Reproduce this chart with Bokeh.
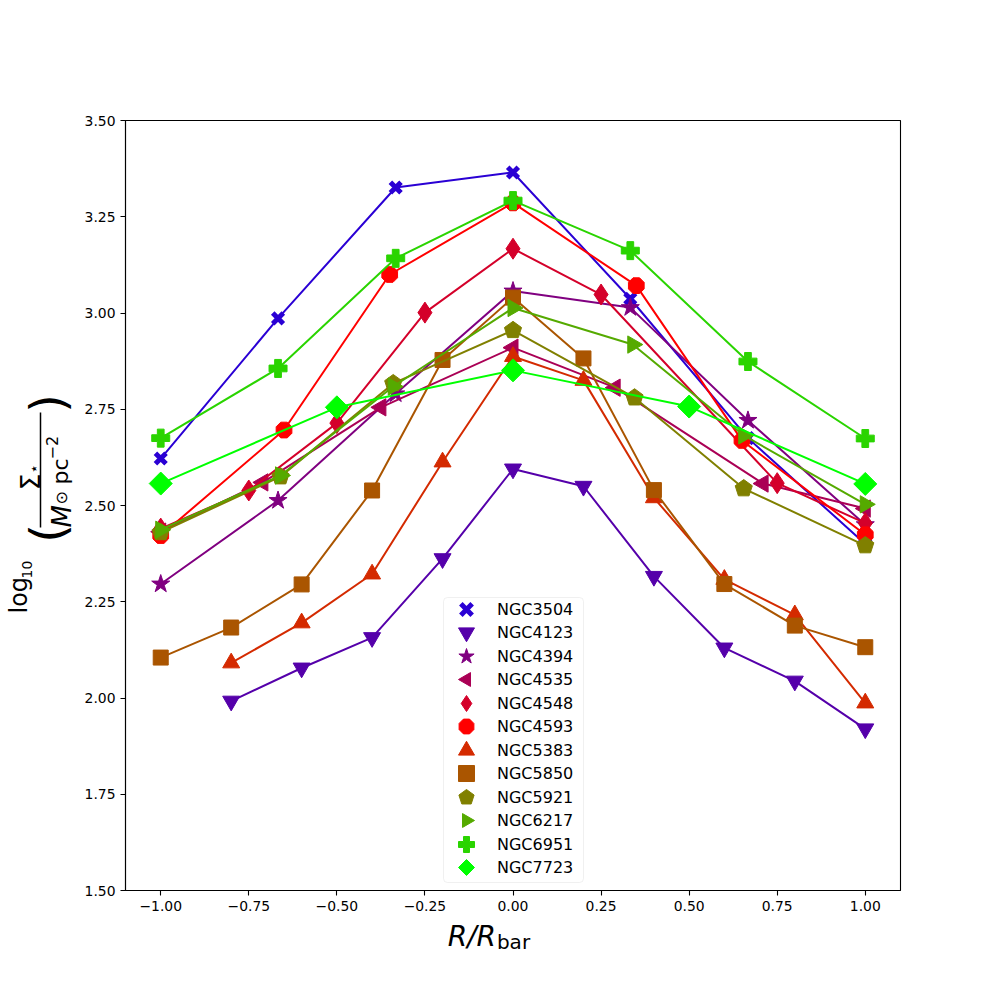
import math
from bokeh.plotting import figure
from bokeh.layouts import row, column
from bokeh.models import (Legend, LegendItem, FixedTicker, Range1d, CustomJSTickFormatter,
                          BoxAnnotation)
from bokeh.embed import file_html
from bokeh.resources import INLINE
from bokeh.core.properties import value

# ---------------- data ----------------
galaxies = ["NGC3504", "NGC4123", "NGC4394", "NGC4535", "NGC4548", "NGC4593",
            "NGC5383", "NGC5850", "NGC5921", "NGC6217", "NGC6951", "NGC7723"]

x_3504 = [-1.0, -0.667, -0.333, 0.0, 0.333, 0.667, 1.0]
y_3504 = [2.622, 2.986, 3.326, 3.365, 3.037, 2.675, 2.400]

x_4123 = [-0.8, -0.6, -0.4, -0.2, 0.0, 0.2, 0.4, 0.6, 0.8, 1.0]
y_4123 = [1.992, 2.078, 2.157, 2.362, 2.595, 2.550, 2.316, 2.130, 2.044, 1.920]

x_4394 = [-1.0, -0.667, -0.333, 0.0, 0.333, 0.667, 1.0]
y_4394 = [2.296, 2.513, 2.790, 3.057, 3.014, 2.721, 2.450]

x_4535 = [-1.0, -0.71, -0.375, 0.0, 0.29, 0.71, 1.0]
y_4535 = [2.432, 2.560, 2.755, 2.910, 2.806, 2.557, 2.492]

x_4548 = [-1.0, -0.75, -0.5, -0.25, 0.0, 0.25, 0.75, 1.0]
y_4548 = [2.440, 2.539, 2.714, 3.001, 3.167, 3.048, 2.558, 2.454]

x_4593 = [-1.0, -0.65, -0.35, 0.0, 0.35, 0.65, 1.0]
y_4593 = [2.422, 2.696, 3.100, 3.286, 3.071, 2.669, 2.424]

x_5383 = [-0.8, -0.6, -0.4, -0.2, 0.0, 0.2, 0.4, 0.6, 0.8, 1.0]
y_5383 = [2.091, 2.195, 2.322, 2.613, 2.887, 2.825, 2.520, 2.308, 2.216, 1.987]

x_5850 = [-1.0, -0.8, -0.6, -0.4, -0.2, 0.0, 0.2, 0.4, 0.6, 0.8, 1.0]
y_5850 = [2.105, 2.183, 2.295, 2.539, 2.878, 3.040, 2.882, 2.540, 2.296, 2.188, 2.132]

x_5921 = [-1.0, -0.66, -0.34, 0.0, 0.345, 0.655, 1.0]
y_5921 = [2.430, 2.575, 2.817, 2.955, 2.780, 2.544, 2.396]

x_6217 = [-1.0, -0.66, -0.34, 0.0, 0.34, 0.655, 1.0]
y_6217 = [2.437, 2.578, 2.809, 3.013, 2.918, 2.682, 2.503]

x_6951 = [-1.0, -0.667, -0.333, 0.0, 0.333, 0.667, 1.0]
y_6951 = [2.675, 2.856, 3.142, 3.292, 3.162, 2.874, 2.674]

x_7723 = [-1.0, -0.5, 0.0, 0.5, 1.0]
y_7723 = [2.557, 2.755, 2.851, 2.757, 2.556]

x_ticks = [-1.0, -0.75, -0.5, -0.25, 0.0, 0.25, 0.5, 0.75, 1.0]
y_ticks = [1.5, 1.75, 2.0, 2.25, 2.5, 2.75, 3.0, 3.25, 3.5]

xs_all = [x_3504, x_4123, x_4394, x_4535, x_4548, x_4593,
          x_5383, x_5850, x_5921, x_6217, x_6951, x_7723]
ys_all = [y_3504, y_4123, y_4394, y_4535, y_4548, y_4593,
          y_5383, y_5850, y_5921, y_6217, y_6951, y_7723]

# ---------------- styles ----------------
colors = ["#2a00d4", "#5500aa", "#800080", "#aa0055", "#d4002a", "#ff0000",
          "#d42a00", "#aa5500", "#808000", "#55aa00", "#2ad400", "#00ff00"]
# (kind, marker or n-sides, angle, size, line width)
styles = [
    ("scatter", "x", 0.0, 15, 5),
    ("scatter", "inverted_triangle", 0.0, 17, 1),
    ("scatter", "star", 0.0, 19, 1),
    ("ngon", 3, math.pi / 2, 10, 1),
    ("scatter", "diamond", 0.0, 21, 1),
    ("ngon", 8, math.pi / 8, 8.5, 1),
    ("scatter", "triangle", 0.0, 17, 1),
    ("scatter", "square", 0.0, 15, 1),
    ("ngon", 5, 0.0, 9, 1),
    ("ngon", 3, -math.pi / 2, 10, 1),
    ("scatter", "plus", 0.0, 18, 1),
    ("ngon", 4, 0.0, 11.5, 1),
]

FONT = "DejaVu Sans"
TOTAL_H = 996

# ---------------- main plot ----------------
p = figure(frame_width=775, frame_height=770,
           min_border_left=45, min_border_right=96,
           min_border_top=120, min_border_bottom=30,
           x_range=Range1d(-1.1, 1.1), y_range=Range1d(1.5, 3.5),
           output_backend="svg", toolbar_location=None)
p.xgrid.visible = False
p.ygrid.visible = False
p.outline_line_color = "black"
p.outline_line_width = 1.1
p.background_fill_color = "white"
p.border_fill_color = "white"

fmt = CustomJSTickFormatter(code="return (tick < 0 ? '\u2212' : '') + Math.abs(tick).toFixed(2);")
for ax, ticks in ((p.xaxis[0], x_ticks), (p.yaxis[0], y_ticks)):
    ax.ticker = FixedTicker(ticks=ticks)
    ax.formatter = fmt
    ax.major_tick_out = 5
    ax.major_tick_in = 0
    ax.minor_tick_out = 0
    ax.minor_tick_in = 0
    ax.major_tick_line_color = "black"
    ax.major_tick_line_width = 1.1
    ax.axis_line_color = "black"
    ax.axis_line_width = 1.1
    ax.major_label_text_font = FONT
    ax.major_label_text_font_size = "13.9px"
    ax.major_label_text_color = "black"
    ax.major_label_standoff = 5

items = []
for name, xs, ys, col, st in zip(galaxies, xs_all, ys_all, colors, styles):
    p.line(xs, ys, line_color=col, line_width=2)
    kind, mk, ang, sz, lw = st
    r = None
    if kind == "ngon":
        try:
            r = p.ngon(x=xs, y=ys, radius=sz, radius_units="screen", n=mk, angle=ang,
                       fill_color=col, line_color=col)
        except Exception:
            r = None
        if r is None:
            fb = {3: "triangle", 4: "square", 5: "circle", 8: "hex"}[mk]
            r = p.scatter(xs, ys, marker=fb, size=2 * sz, fill_color=col, line_color=col)
    else:
        r = p.scatter(xs, ys, marker=mk, angle=ang, size=sz, fill_color=col,
                      line_color=col, line_width=lw)
    items.append(LegendItem(label=name, renderers=[r]))


# pixel helpers (page pixels -> data units of the main frame) for the legend frame
def px2x(px):
    return -1.1 + (px - 125) * 2.2 / 775


def py2y(py):
    return 3.5 - (py - 120) * 2.0 / 770


# legend frame (drawn first, below the two interleaved legends)
p.add_layout(BoxAnnotation(left=px2x(443), right=px2x(583), top=py2y(597), bottom=py2y(882),
                           fill_color="white", fill_alpha=0.8,
                           line_color="#cccccc", line_width=1, border_radius=4))


def make_legend(its, loc):
    return Legend(items=its, location=loc, orientation="vertical",
                  glyph_width=40, glyph_height=40, label_height=40, spacing=7,
                  padding=0, margin=0, label_standoff=11,
                  label_text_font=FONT, label_text_font_size="16px",
                  label_text_color="black", border_line_color=None,
                  background_fill_alpha=0.0)


p.add_layout(make_legend(items[0::2], (321, 26)))
p.add_layout(make_legend(items[1::2], (321, 3)))


# ---------------- panels for the axis labels ----------------
def text_panel(w, h):
    f = figure(width=w, height=h, x_range=Range1d(0, w), y_range=Range1d(0, h),
               output_backend="svg", toolbar_location=None, min_border=0,
               x_axis_type=None, y_axis_type=None)
    f.outline_line_color = None
    f.background_fill_color = "white"
    f.border_fill_color = "white"
    for g in f.grid:
        g.visible = False
    return f


left = text_panel(80, TOTAL_H)
bottom = text_panel(916, 76)

SHIFT = 0.26  # baseline correction (em)


def put(fig, x0, text, px, py, fs, angle=0.0, align="left", style="normal"):
    # (px, py) = wanted page position of the baseline start
    if angle == 0.0:
        py = py - SHIFT * fs
    else:
        px = px - SHIFT * fs
    fig.text(x=[px - x0], y=[TOTAL_H - py], text=[text], angle=angle,
             text_align=align, text_baseline="alphabetic",
             text_font=value(FONT), text_font_size=value("%dpx" % fs),
             text_font_style=value(style), text_color="black")


# x label: R/R_bar   (bottom panel starts at page x = 80)
put(bottom, 80, "R/R", 518, 943, 28, style="italic", align="right")
put(bottom, 80, "bar", 519, 947, 20)

# y label: log10( Sigma_star / (M_sun pc^-2) )
A = math.pi / 2
put(left, 0, "log", 25, 613, 24, angle=A)
put(left, 0, "10", 30, 578, 14, angle=A)
put(left, 0, "(", 60, 533, 48, angle=A, align="center")
put(left, 0, "\u03a3", 37, 490, 27, angle=A)
put(left, 0, "\u22c6", 37, 473, 15, angle=A)
left.segment(x0=[40], y0=[TOTAL_H - 412], x1=[40], y1=[TOTAL_H - 527],
             line_color="black", line_width=1.5)
put(left, 0, "M", 68, 527, 26, angle=A, style="italic")
put(left, 0, "\u2299", 65, 504, 16, angle=A)
put(left, 0, "pc", 66, 484, 22, angle=A)
put(left, 0, "\u22122", 56, 459, 16, angle=A)
put(left, 0, ")", 60, 403, 48, angle=A, align="center")

layout = row(left, column(p, bottom))
open("out.html", "w").write(file_html(layout, INLINE))
